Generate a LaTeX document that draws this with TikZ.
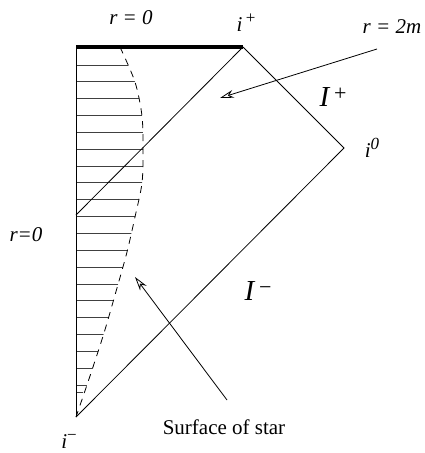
\documentclass[tikz,border=0pt]{standalone}
\usepackage{fontspec}
\setmainfont{Liberation Serif}
\usetikzlibrary{arrows.meta}
\newcommand{\supx}[1]{\raisebox{8pt}{\fontsize{17}{19}\selectfont #1}}
\begin{document}
\begin{tikzpicture}[x=1pt,y=-1pt,
  lbl/.style={inner sep=0pt,font=\fontsize{21}{24}\selectfont\itshape},
  bigI/.style={inner sep=0pt,font=\fontsize{29}{32}\selectfont\itshape},
  plain/.style={inner sep=0pt,font=\fontsize{21}{24}\selectfont},
  edge/.style={line width=0.8pt},
  hatch/.style={line width=0.8pt,black!75},
  pointer/.style={line width=0.8pt,-{Stealth[open,length=14pt,width=8pt]}}]
\useasboundingbox (0,0) rectangle (425,453);
% key points
\coordinate (tl) at (76,47);
\coordinate (ipl) at (243,47);
\coordinate (izero) at (344,148);
\coordinate (imin) at (76,417);
\coordinate (hor) at (76,215);
% hatching inside the star
\begin{scope}
  \clip (76,40) -- (120,40) -- plot[smooth] coordinates {(120,47) (135,82) (142,116) (143,150) (142,183) (135,217) (127,252) (117,288) (104,333) (90,376) (76,417)} -- cycle;
  \foreach \k in {0,...,19}{
    \draw[hatch] (76,{65+16.84*\k}) -- (160,{65+16.84*\k});
  }
\end{scope}
\draw[hatch] (76,392) -- (83,392);
% surface of star
\draw[edge,dash pattern=on 7pt off 6pt] plot[smooth] coordinates {(120,47) (135,82) (142,116) (143,150) (142,183) (135,217) (127,252) (117,288) (104,333) (90,376) (76,417)};
% outline
\draw[edge] (tl) -- (imin);
\draw[edge] (ipl) -- (izero) -- (imin);
\draw[edge] (hor) -- (ipl);
\draw[line width=4pt] (tl) -- (ipl);
% labels
\node[lbl] (r0top) at (131,18) {r = 0};
\node[lbl] (iplus) at (246,23) {i\,\supx{\upshape +}};
\node[lbl] (r2m) at (392,27) {r = 2m};
\node[bigI] (scrip) at (333,97) {I\,\raisebox{6pt}{\fontsize{22}{24}\selectfont\upshape +}};
\node[lbl] (izlab) at (372,148) {i\supx{0}};
\node[lbl] (r0left) at (26,235) {r=0};
\node[bigI] (scrim) at (258,291) {I\,\raisebox{6pt}{\fontsize{22}{24}\selectfont\upshape −}};
\node[lbl] (imlab) at (69,441) {i\supx{\upshape −}};
\node[plain] (surf) at (224,427) {Surface of star};
% pointers
\coordinate (a1s) at (377,49);
\coordinate (a1e) at (220,98);
\coordinate (a2s) at (227,400);
\coordinate (a2e) at (135,277);
\draw[pointer] (a1s) -- (a1e);
\draw[pointer] (a2s) -- (a2e);
\end{tikzpicture}
\end{document}
